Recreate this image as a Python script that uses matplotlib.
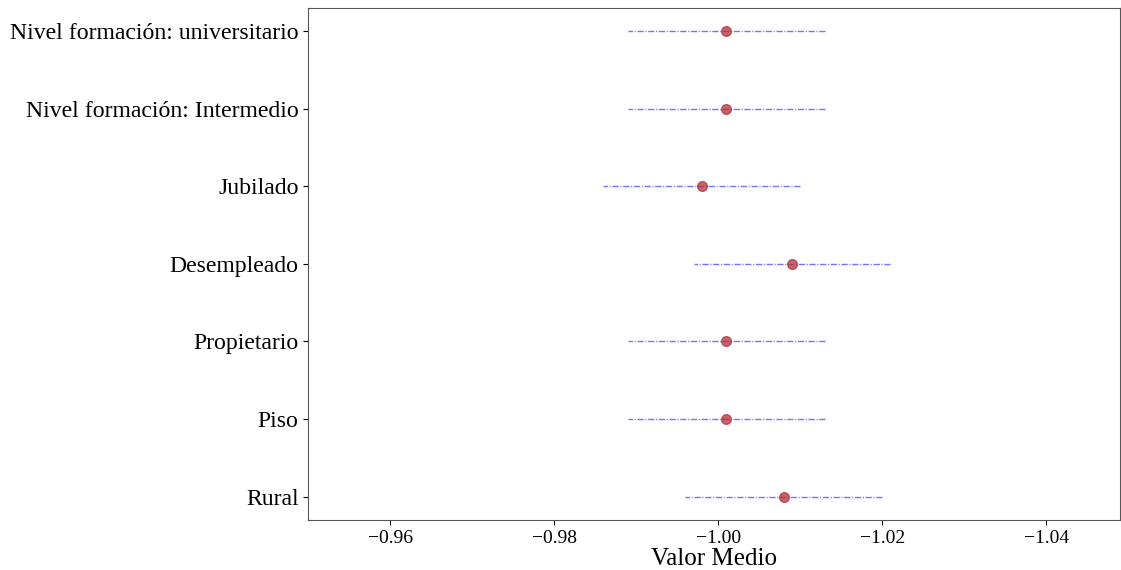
import matplotlib
matplotlib.use("Agg")
import matplotlib.pyplot as plt

# Mean value per variable with a symmetric interval around it
variables = ["Rural", "Piso", "Propietario", "Desempleado", "Jubilado",
             "Nivel formación: Intermedio", "Nivel formación: universitario"]
medias = [-1.008, -1.001, -1.001, -1.009, -0.998, -1.001, -1.001]
errores = [0.012, 0.012, 0.012, 0.012, 0.012, 0.012, 0.012]

plt.rcParams["font.family"] = ["Liberation Serif", "DejaVu Serif"]

fig, ax = plt.subplots(figsize=(11.21, 5.70), dpi=100)
fig.subplots_adjust(left=0.275, right=0.999, top=0.986, bottom=0.088)

pos = list(range(len(variables)))
ax.hlines(pos, [m - e for m, e in zip(medias, errores)],
          [m + e for m, e in zip(medias, errores)],
          colors="blue", linestyles=(0, (4.5, 1.2, 0.8, 1.2)), linewidth=1, alpha=0.55)
ax.plot(medias, pos, "o", color="#b5303a", alpha=0.75, markersize=7, linestyle="none")

ax.set_yticks(pos)
ax.set_yticklabels(variables, fontsize=17.1)
ax.set_xlim(-0.95, -1.049)
ax.set_xticks([-0.96, -0.98, -1.00, -1.02, -1.04])
ax.tick_params(axis="x", labelsize=14)
ax.set_xlabel("Valor Medio", fontsize=18, labelpad=1)
for s in ax.spines.values():
    s.set_color("#555555")

fig.savefig("out.png", dpi=100)
